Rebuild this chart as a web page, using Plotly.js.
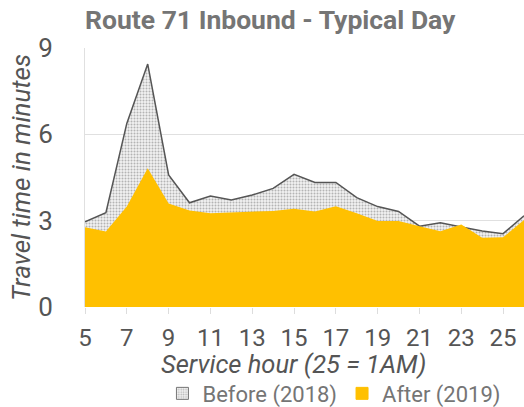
<!DOCTYPE html>
<html>
<head>
<meta charset="utf-8">
<script src="https://cdn.plot.ly/plotly-3.0.1.min.js"></script>
<style>html,body{margin:0;padding:0;background:#fff;}#chart{width:524px;height:407px;}</style>
</head>
<body>
<div id="chart"></div>
<script>
const hours = [5,6,7,8,9,10,11,12,13,14,15,16,17,18,19,20,21,22,23,24,25,26];
const before2018 = [2.96,3.28,6.38,8.44,4.59,3.62,3.86,3.72,3.89,4.12,4.61,4.33,4.33,3.80,3.49,3.32,2.81,2.93,2.78,2.64,2.55,3.17];
const after2019 = [2.77,2.62,3.49,4.82,3.60,3.35,3.26,3.29,3.31,3.34,3.41,3.32,3.50,3.26,2.99,2.99,2.81,2.63,2.87,2.41,2.42,3.02];
const xTicks = [5,7,9,11,13,15,17,19,21,23,25];
const yTicks = [0,3,6,9];
const seriesNames = ['Before (2018)', 'After (2019)'];

const dots = {shape: '.', fgcolor: '#b4b4b4', bgcolor: '#f2f2f2', size: 3, solidity: 0.35};

const traces = [
  {
    x: hours, y: before2018, name: seriesNames[0], type: 'scatter', mode: 'lines',
    fill: 'tozeroy', showlegend: false,
    line: {color: '#555555', width: 1.5},
    fillcolor: '#eeeeee',
    fillpattern: dots
  },
  {
    x: hours, y: after2019, name: seriesNames[1], type: 'scatter', mode: 'lines',
    fill: 'tozeroy', showlegend: false,
    line: {color: '#FFC000', width: 0},
    fillcolor: '#FFC000'
  },
  // legend entries (square swatches)
  {
    x: [null], y: [null], name: seriesNames[0], type: 'bar',
    marker: {color: '#f2f2f2', pattern: dots, line: {color: '#777777', width: 1}}
  },
  {
    x: [null], y: [null], name: seriesNames[1], type: 'bar',
    marker: {color: '#FFC000', line: {color: '#FFC000', width: 1}}
  }
];

const layout = {
  width: 524, height: 407,
  margin: {l: 85, r: 0, t: 48, b: 100},
  paper_bgcolor: '#ffffff', plot_bgcolor: '#ffffff',
  font: {family: 'Roboto, sans-serif', color: '#555555'},
  title: {
    text: '<b>Route 71 Inbound - Typical Day</b>',
    font: {family: 'Roboto, sans-serif', size: 26.5, color: '#757575'},
    xref: 'paper', x: 0, xanchor: 'left',
    yref: 'container', y: 0.951, yanchor: 'middle'
  },
  xaxis: {
    range: [5, 26], tickvals: xTicks, ticktext: xTicks.map(String),
    showgrid: false, zeroline: false, tickangle: 0,
    ticks: 'outside', ticklen: 6, tickcolor: '#dddddd', tickwidth: 1,
    ticklabelstandoff: 3,
    showline: false,
    tickfont: {size: 24, color: '#555555'},
    automargin: false
  },
  yaxis: {
    range: [0, 9], tickvals: yTicks, ticktext: yTicks.map(String),
    showgrid: true, gridcolor: '#e0e0e0', gridwidth: 1,
    zeroline: false, showline: true, linecolor: '#e0e0e0', linewidth: 1,
    ticks: '', ticklabelstandoff: 26,
    tickfont: {size: 26, color: '#555555'},
    title: {text: '<i>Travel time in minutes</i>', font: {size: 26, color: '#555555'}, standoff: 0},
    automargin: false
  },
  annotations: [{
    text: '<i>Service hour (25 = 1AM)</i>',
    xref: 'paper', yref: 'paper', x: 0.476, y: -0.222,
    xanchor: 'center', yanchor: 'middle', showarrow: false,
    font: {size: 25.5, color: '#555555'}
  }],
  legend: {
    orientation: 'h', xref: 'container', x: 0.31, xanchor: 'left',
    yref: 'container', y: 0.033, yanchor: 'middle',
    font: {size: 22, color: '#757575'},
    traceorder: 'normal'
  },
  showlegend: true
};

Plotly.newPlot('chart', traces, layout, {displayModeBar: false, staticPlot: true});
</script>
</body>
</html>
